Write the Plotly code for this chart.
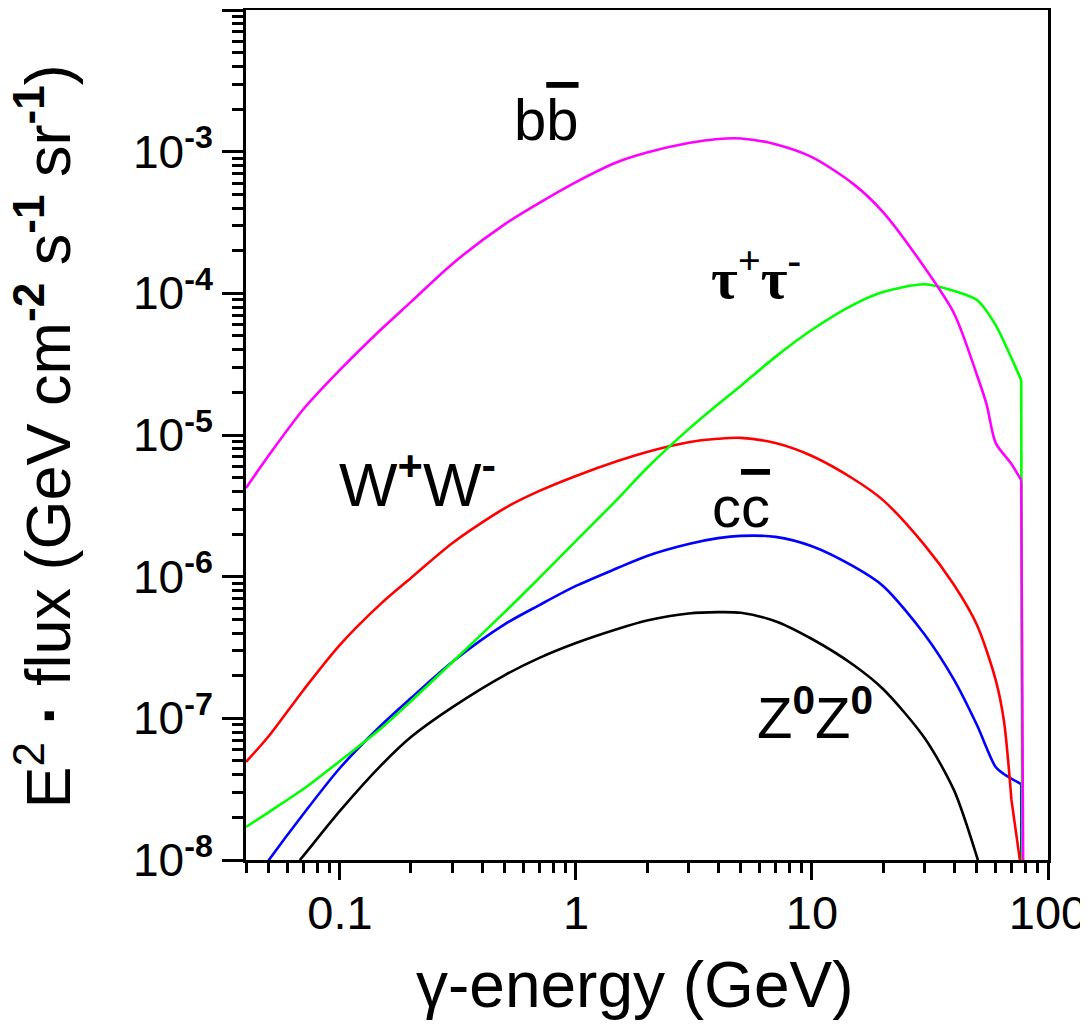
import math
import plotly.graph_objects as go

# ---------------- data ----------------
bb_energy = [0.04, 0.05, 0.07, 0.1, 0.15, 0.2, 0.3, 0.5, 0.7, 1, 1.5, 2, 3, 4, 5, 7, 10,
             15, 20, 30, 40, 50, 55, 60, 70, 77, 79]
bb_flux = [4.23e-6, 7.2e-6, 1.52e-5, 2.88e-5, 5.6e-5, 8.7e-5, 1.62e-4, 3.08e-4, 4.35e-4,
           6.1e-4, 8.45e-4, 9.86e-4, 1.15e-3, 1.23e-3, 1.24e-3, 1.13e-3, 9.16e-4, 5.9e-4,
           3.75e-4, 1.52e-4, 7.2e-5, 2.65e-5, 1.63e-5, 8.8e-6, 6.24e-6, 4.8e-6, 1e-9]

tau_energy = [0.04, 0.05, 0.07, 0.1, 0.15, 0.2, 0.3, 0.5, 0.7, 1, 1.5, 2, 3, 4, 5, 7, 10,
              15, 20, 30, 40, 50, 60, 70, 77, 78]
tau_flux = [1.71e-8, 2.18e-8, 3.17e-8, 5.0e-8, 8.55e-8, 1.32e-7, 2.5e-7, 5.64e-7, 9.8e-7,
            1.79e-6, 3.53e-6, 5.85e-6, 1.1e-5, 1.65e-5, 2.23e-5, 3.56e-5, 5.53e-5, 8.32e-5,
            1.02e-4, 1.16e-4, 1.04e-4, 8.97e-5, 5.97e-5, 3.49e-5, 2.44e-5, 1e-9]

ww_energy = [0.04, 0.05, 0.07, 0.1, 0.15, 0.2, 0.3, 0.5, 0.7, 1, 1.5, 2, 3, 4, 5, 7, 10,
             15, 20, 30, 40, 50, 60, 65, 70, 76, 77.5]
ww_flux = [4.92e-8, 7.5e-8, 1.58e-7, 3.3e-7, 6.5e-7, 9.8e-7, 1.73e-6, 3.05e-6, 4.03e-6,
           5.14e-6, 6.55e-6, 7.6e-6, 8.9e-6, 9.4e-6, 9.55e-6, 8.77e-6, 7.11e-6, 4.89e-6,
           3.47e-6, 1.67e-6, 8.73e-7, 4.56e-7, 1.87e-7, 9.7e-8, 2.66e-8, 1e-8, 1e-9]

cc_energy = [0.045, 0.05, 0.07, 0.1, 0.15, 0.2, 0.3, 0.5, 0.7, 1, 1.5, 2, 3, 4, 5, 7, 10,
             15, 20, 30, 40, 50, 60, 65, 77, 77.5]
cc_flux = [7.8e-9, 1.0e-8, 2.11e-8, 4.46e-8, 8.97e-8, 1.39e-7, 2.51e-7, 4.62e-7, 6.3e-7,
           8.6e-7, 1.15e-6, 1.4e-6, 1.7e-6, 1.87e-6, 1.94e-6, 1.91e-6, 1.64e-6, 1.18e-6,
           8.6e-7, 3.91e-7, 1.87e-7, 8.97e-8, 4.53e-8, 4.05e-8, 3.43e-8, 1e-9]

zz_energy = [0.0676, 0.07, 0.1, 0.15, 0.2, 0.3, 0.5, 0.7, 1, 1.5, 2, 3, 4, 5, 7, 10, 15,
             20, 30, 40, 50, 55]
zz_flux = [1e-8, 1.07e-8, 2.22e-8, 4.69e-8, 7.38e-8, 1.2e-7, 2.02e-7, 2.67e-7, 3.4e-7,
           4.27e-7, 4.9e-7, 5.5e-7, 5.62e-7, 5.56e-7, 4.85e-7, 3.63e-7, 2.38e-7, 1.61e-7,
           7.26e-8, 3.1e-8, 1.05e-8, 6e-9]

x_tick_values = [0.1, 1, 10, 100]
x_tick_labels = ["0.1", "1", "10", "100"]
y_tick_values = [1e-8, 1e-7, 1e-6, 1e-5, 1e-4, 1e-3, 1e-2]
y_tick_labels = ["10<sup><b>-8</b></sup>", "10<sup><b>-7</b></sup>", "10<sup><b>-6</b></sup>",
                 "10<sup><b>-5</b></sup>", "10<sup><b>-4</b></sup>", "10<sup><b>-3</b></sup>", ""]

# ---------------- figure ----------------
SANS = "Liberation Sans, Arial, sans-serif"
SERIF = "Liberation Serif, Times New Roman, serif"

# (energies, fluxes, colour, number of trailing points forming the sharp cut-off)
series = [
    (zz_energy, zz_flux, "#000000", 0),
    (cc_energy, cc_flux, "#0000FF", 1),
    (ww_energy, ww_flux, "#FF0000", 2),
    (tau_energy, tau_flux, "#00FF00", 1),
    (bb_energy, bb_flux, "#FF00FF", 1),
]

fig = go.Figure()
for e, f, c, ndrop in series:
    n = len(e) - ndrop
    fig.add_trace(go.Scatter(x=e[:n], y=f[:n], mode="lines",
                             line=dict(color=c, width=2.6, shape="spline", smoothing=0.8),
                             showlegend=False, hoverinfo="skip"))
    if ndrop:
        fig.add_trace(go.Scatter(x=e[n - 1:], y=f[n - 1:], mode="lines",
                                 line=dict(color=c, width=2.6),
                                 showlegend=False, hoverinfo="skip"))

x_minor = [m * 10 ** p for p in (-2, -1, 0, 1) for m in range(2, 10) if m * 10 ** p > 0.039]
y_minor = [m * 10.0 ** p for p in range(-8, -2) for m in range(2, 10)]

fig.update_xaxes(
    type="log", range=[math.log10(0.04), 2], automargin=False,
    showline=True, linewidth=3, linecolor="black", mirror=True,
    showgrid=False, zeroline=False,
    tickmode="array", tickvals=x_tick_values, ticktext=x_tick_labels,
    ticks="outside", ticklen=17, tickwidth=3, tickcolor="black",
    tickfont=dict(family=SANS, size=47, color="black"),
    ticklabelstandoff=-7,
    minor=dict(tickmode="array", tickvals=x_minor, ticks="outside", ticklen=10,
               tickwidth=3, tickcolor="black", showgrid=False),
)
fig.update_yaxes(
    type="log", range=[-8, -2], automargin=False,
    showline=True, linewidth=3, linecolor="black", mirror=True,
    showgrid=False, zeroline=False,
    tickmode="array", tickvals=y_tick_values, ticktext=y_tick_labels,
    ticks="outside", ticklen=21, tickwidth=3, tickcolor="black",
    tickfont=dict(family=SANS, size=46, color="black"),
    ticklabelstandoff=0,
    minor=dict(tickmode="array", tickvals=y_minor, ticks="outside", ticklen=11,
               tickwidth=3, tickcolor="black", showgrid=False),
)

def label(text, x, y, size, family=SANS, xanchor="center", yanchor="bottom", angle=0):
    fig.add_annotation(text=text, xref="paper", yref="paper", x=x, y=y,
                       xanchor=xanchor, yanchor=yanchor, showarrow=False, textangle=angle,
                       font=dict(family=family, size=size, color="black"))

label("b<span style='text-decoration:overline'>b</span>", 0.3753, 0.8306, 58)
label("<b>τ<sup>+</sup>τ<sup>-</sup></b>", 0.6365, 0.6435, 58, family=SERIF)
label("W<sup><b>+</b></sup>W<sup><b>-</b></sup>", 0.2138, 0.3988, 62)
label("c<span style='text-decoration:overline'>c</span>", 0.6178, 0.3753, 58)
label("Z<sup><b>0</b></sup>Z<sup><b>0</b></sup>", 0.7095, 0.127, 58)

label("E<sup>2</sup> <b>·</b> flux (GeV cm<sup><b>-2</b></sup> s<sup><b>-1</b></sup> sr<sup><b>-1</b></sup>)",
      -0.253, 0.4982, 63, yanchor="middle", angle=-90)
label("γ-energy (GeV)", 0.485, -0.1023, 64, yanchor="top")

# the page adds an 8 px body margin, so the margins are reduced by that amount
fig.update_layout(
    width=1088, height=1026,
    margin=dict(l=238, r=48, t=2, b=174, pad=0),
    plot_bgcolor="white", paper_bgcolor="white",
    showlegend=False,
)

fig.write_html("out.html")
